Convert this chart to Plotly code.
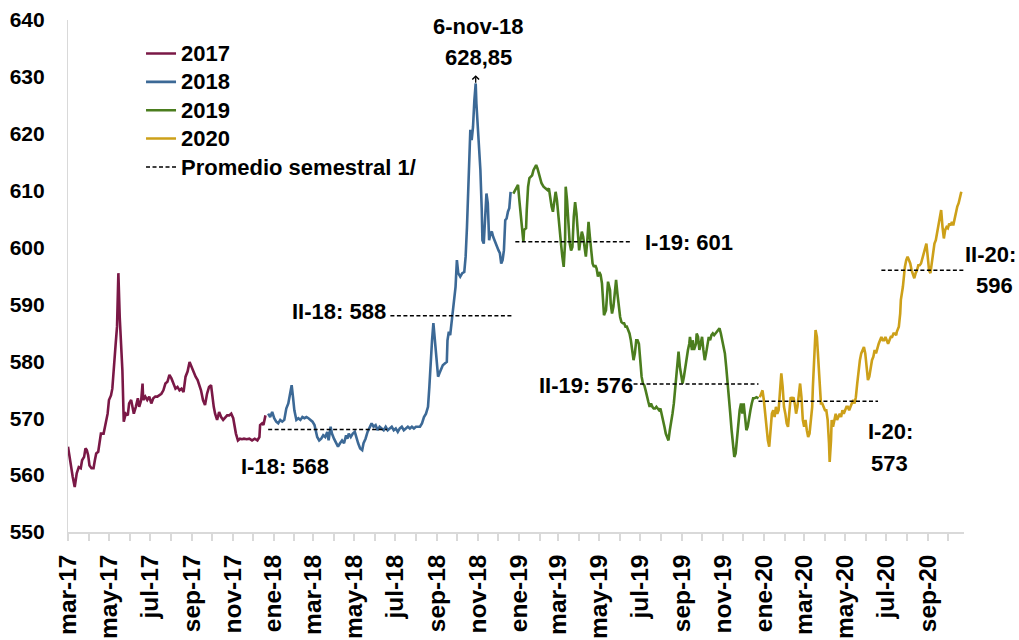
import pandas as pd
import plotly.graph_objects as go

# ---------------- data ----------------
BASE_DATE = "2017-03-01"   # day offsets below are counted from this date

days_2017 = [0, 3, 7, 10, 13, 16, 19, 21, 24, 26,
             28, 30, 32, 35, 38, 40, 42, 45, 47, 49,
             53, 56, 59, 61, 64, 66, 68, 71, 73, 75,
             77, 79, 81, 83, 86, 89, 91, 94, 96, 98,
             101, 104, 106, 109, 111, 112, 115, 118, 121, 124,
             127, 130, 133, 136, 139, 142, 145, 148, 151, 154,
             157, 160, 163, 166, 169, 172, 175, 178, 181, 184,
             187, 190, 193, 196, 198, 201, 204, 207, 210, 213,
             215, 217, 219, 222, 225, 228, 231, 234, 237, 240,
             243, 246, 247, 250, 253, 256, 259, 262, 266, 270,
             274, 278, 282, 285, 286, 289, 291, 293, 294]
usd_2017 = [565.0, 562.6, 559.7, 557.9, 560.3, 561.4, 561.2, 562.6, 563.2, 564.7,
            564.4, 563.5, 561.7, 561.2, 561.2, 562.6, 563.8, 564.1, 566.1, 567.3,
            567.3, 569.1, 570.8, 573.2, 574.0, 575.2, 579.0, 583.1, 586.1, 595.5,
            587.8, 582.5, 578.4, 569.4, 570.8, 570.5, 572.6, 573.2, 572.0, 570.8,
            572.0, 573.5, 572.0, 573.2, 576.1, 573.2, 573.8, 573.2, 573.8, 572.6,
            573.5, 573.8, 573.8, 574.0, 574.3, 574.9, 576.1, 576.4, 577.6, 577.0,
            576.1, 575.2, 575.5, 574.9, 575.2, 574.6, 577.3, 578.2, 579.9, 579.0,
            578.4, 577.3, 576.7, 575.5, 574.9, 573.2, 572.3, 574.3, 575.5, 575.8,
            573.2, 572.0, 570.8, 569.7, 571.1, 570.2, 569.7, 570.2, 570.5, 570.5,
            570.8, 570.0, 569.1, 567.3, 566.1, 566.4, 566.3, 566.4, 566.3, 566.4,
            566.1, 566.4, 566.1, 566.7, 568.8, 569.1, 568.8, 570.2, 570.5]

days_2018 = [298, 301, 304, 307, 310, 313, 316, 319, 322, 325,
             328, 331, 333, 335, 337, 340, 343, 346, 349, 352,
             355, 358, 361, 364, 367, 369, 371, 374, 377, 380,
             383, 386, 388, 391, 393, 396, 399, 402, 405, 408,
             411, 414, 416, 418, 421, 424, 427, 429, 432, 435,
             438, 440, 443, 446, 449, 452, 455, 458, 461, 464,
             467, 470, 473, 476, 479, 482, 485, 488, 491, 494,
             497, 500, 503, 506, 509, 512, 515, 518, 521, 524,
             527, 530, 533, 536, 538, 540, 542, 544, 546, 549,
             551, 553, 556, 558, 561, 564, 565, 567, 569, 571,
             573, 575, 577, 579, 581, 584, 587, 590, 592, 594,
             596, 598, 599, 601, 603, 605, 607, 608, 610, 612,
             614, 616, 617, 619, 621, 623, 625, 627, 629, 631,
             633, 635, 637, 639, 641, 643, 645, 647, 649, 651,
             653, 655, 657, 659]
usd_2018 = [570.8, 570.2, 571.1, 570.0, 569.4, 569.1, 569.7, 569.4, 569.7, 571.7,
            572.6, 574.3, 575.8, 573.7, 571.4, 569.7, 570.0, 569.7, 570.2, 570.0,
            570.2, 570.0, 569.7, 569.4, 568.8, 567.9, 566.7, 566.1, 566.4, 567.0,
            566.7, 567.6, 566.1, 568.5, 567.3, 566.4, 565.6, 565.0, 565.6, 566.1,
            565.6, 567.0, 566.4, 567.3, 566.7, 567.3, 567.6, 566.7, 565.6, 564.7,
            564.4, 565.6, 566.4, 567.6, 568.5, 569.1, 568.5, 568.8, 567.9, 568.5,
            568.2, 567.9, 568.5, 567.9, 568.2, 568.5, 567.9, 568.2, 567.6, 568.2,
            568.5, 567.9, 568.2, 568.5, 568.2, 568.5, 568.2, 568.5, 568.5, 568.5,
            569.1, 570.2, 570.8, 572.0, 575.5, 580.2, 583.7, 586.7, 583.7, 580.2,
            577.3, 577.9, 578.7, 579.3, 579.6, 579.9, 583.7, 585.2, 584.6, 586.7,
            589.0, 590.8, 593.1, 597.8, 595.5, 594.9, 595.5, 595.7, 598.4, 603.6,
            609.5, 615.4, 620.7, 618.9, 621.2, 625.9, 628.85, 625.4, 621.2, 618.9,
            613.6, 606.6, 601.3, 600.7, 605.4, 609.5, 607.8, 601.3, 602.5, 602.8,
            601.9, 601.3, 600.4, 600.1, 599.5, 599.0, 597.2, 597.8, 599.5, 604.8,
            605.1, 606.3, 606.9, 609.8]

days_2019 = [663, 667, 670, 672, 674, 676, 678, 679, 682, 683,
             685, 687, 689, 691, 693, 695, 697, 699, 701, 703,
             705, 708, 711, 714, 716, 718, 720, 722, 724, 726,
             728, 730, 732, 734, 736, 738, 740, 741, 743, 745,
             747, 749, 751, 753, 755, 757, 759, 761, 763, 765,
             767, 769, 771, 773, 775, 777, 779, 781, 783, 785,
             787, 789, 791, 793, 795, 797, 798, 801, 802, 804,
             807, 808, 810, 812, 814, 816, 818, 820, 822, 824,
             826, 828, 830, 832, 834, 836, 838, 840, 842, 844,
             846, 848, 850, 852, 854, 856, 858, 860, 862, 864,
             866, 868, 870, 872, 874, 876, 878, 880, 882, 884,
             886, 888, 890, 892, 894, 896, 898, 900, 902, 904,
             906, 908, 909, 911, 913, 915, 917, 919, 921, 923,
             925, 926, 929, 930, 932, 935, 936, 938, 940, 942,
             944, 946, 948, 950, 952, 954, 956, 958, 960, 962,
             964, 966, 968, 970, 972, 974, 976, 978, 980, 982,
             984, 986, 988, 990, 992, 994, 996, 998, 1000, 1002,
             1004, 1006, 1008, 1010, 1012, 1014, 1016, 1018, 1020, 1022,
             1025, 1028]
usd_2019 = [609.5, 610.4, 611.0, 608.3, 605.4, 603.1, 601.0, 603.1, 603.4, 606.6,
            610.7, 612.2, 612.4, 612.7, 613.6, 614.2, 614.5, 613.9, 613.0, 612.4,
            611.3, 610.7, 610.4, 610.1, 610.4, 608.6, 607.2, 606.3, 607.8, 609.8,
            608.3, 605.4, 603.1, 600.7, 598.4, 596.6, 600.7, 610.7, 608.3, 603.6,
            600.7, 599.5, 600.1, 605.4, 608.0, 606.0, 602.5, 599.5, 601.3, 602.8,
            601.9, 600.1, 598.4, 601.0, 604.5, 601.9, 599.5, 597.2, 596.6, 596.9,
            596.3, 594.9, 595.7, 595.2, 593.7, 590.8, 588.1, 589.0, 591.3, 594.0,
            592.5, 590.2, 588.4, 589.6, 591.9, 594.3, 591.9, 589.6, 587.8, 586.9,
            586.7, 586.7, 586.1, 586.1, 585.5, 584.9, 583.7, 582.0, 580.2, 581.4,
            583.7, 583.7, 583.1, 580.2, 577.3, 576.1, 575.8, 574.9, 573.7, 572.9,
            572.0, 572.6, 572.0, 571.7, 571.7, 572.0, 571.7, 571.4, 571.7, 570.8,
            569.7, 568.5, 567.3, 566.7, 566.1, 567.9, 569.1, 570.8, 572.6, 574.9,
            577.3, 580.2, 581.7, 579.0, 577.3, 576.1, 577.3, 579.0, 580.8, 582.0,
            583.1, 584.3, 582.0, 583.7, 582.0, 583.1, 584.9, 584.3, 582.0, 583.1,
            584.3, 582.0, 580.2, 581.4, 583.1, 584.3, 583.7, 584.6, 584.9, 584.6,
            584.9, 585.2, 585.5, 585.8, 584.9, 583.7, 583.1, 581.4, 579.0, 576.7,
            573.7, 570.8, 567.9, 565.6, 563.2, 563.8, 566.7, 569.1, 571.4, 572.6,
            570.8, 572.6, 570.2, 567.9, 568.5, 570.2, 571.4, 572.6, 573.5, 573.5,
            573.7, 573.5]

days_2020 = [1030, 1032, 1034, 1036, 1038, 1040, 1042, 1044, 1046, 1048,
             1050, 1052, 1054, 1056, 1058, 1060, 1062, 1064, 1066, 1068,
             1070, 1072, 1074, 1076, 1078, 1080, 1082, 1084, 1086, 1088,
             1090, 1092, 1094, 1096, 1098, 1100, 1102, 1104, 1106, 1108,
             1109, 1112, 1113, 1115, 1117, 1119, 1121, 1123, 1125, 1127,
             1129, 1131, 1133, 1134, 1136, 1137, 1139, 1141, 1143, 1145,
             1147, 1149, 1151, 1153, 1155, 1157, 1159, 1161, 1163, 1165,
             1167, 1169, 1171, 1173, 1175, 1177, 1179, 1181, 1183, 1185,
             1187, 1189, 1191, 1193, 1195, 1197, 1199, 1201, 1203, 1205,
             1207, 1209, 1211, 1213, 1215, 1217, 1219, 1221, 1223, 1225,
             1227, 1229, 1231, 1233, 1234, 1237, 1239, 1240, 1243, 1244,
             1246, 1248, 1250, 1252, 1254, 1256, 1258, 1260, 1262, 1264,
             1266, 1268, 1270, 1272, 1274, 1276, 1278, 1280, 1282, 1284,
             1286, 1288, 1290, 1292, 1294, 1296, 1298, 1300, 1302, 1304,
             1306, 1308, 1310, 1312, 1314, 1316, 1318, 1320, 1322, 1324,
             1326, 1328, 1330]
usd_2020 = [573.7, 574.3, 574.9, 573.2, 570.8, 568.5, 566.1, 565.0, 567.9, 570.8,
            571.4, 570.2, 572.0, 570.8, 571.4, 574.3, 577.9, 575.5, 572.0, 570.8,
            569.1, 568.5, 570.8, 573.7, 573.2, 573.7, 572.6, 570.8, 572.0, 574.3,
            576.1, 573.7, 569.7, 568.5, 569.7, 567.9, 566.7, 567.3, 569.7, 572.0,
            575.5, 581.4, 585.5, 584.3, 580.8, 575.5, 572.6, 572.6, 572.0, 571.4,
            571.4, 569.7, 565.6, 562.3, 566.1, 569.7, 568.5, 569.7, 570.8, 569.7,
            570.2, 570.8, 570.2, 571.4, 570.8, 571.4, 572.0, 572.0, 571.4, 572.0,
            572.6, 573.2, 572.6, 573.7, 576.1, 578.4, 580.2, 581.4, 582.0, 582.5,
            581.4, 578.4, 576.7, 577.3, 579.0, 580.2, 580.8, 582.0, 581.4, 582.5,
            583.1, 583.7, 584.3, 583.7, 583.7, 584.3, 583.7, 583.1, 583.7, 584.3,
            584.3, 584.9, 584.9, 584.6, 585.2, 586.1, 588.4, 590.8, 593.1, 594.9,
            596.6, 597.8, 598.4, 597.8, 597.2, 596.0, 595.2, 594.6, 595.5, 596.0,
            596.9, 596.9, 597.2, 598.1, 599.0, 600.1, 600.7, 598.4, 596.0, 595.5,
            597.2, 599.0, 600.7, 601.3, 602.5, 604.2, 605.4, 606.6, 603.6, 601.6,
            603.1, 603.6, 603.4, 604.2, 603.9, 604.5, 603.9, 605.1, 606.3, 607.2,
            607.8, 608.9, 609.8]

# semester averages ("Promedio semestral 1/")
sem_names = ["I-18", "II-18", "I-19", "II-19", "I-20", "II-20"]
sem_start_days = [298, 480, 666, 842, 1028, 1211]
sem_end_days = [475, 661, 837, 1028, 1206, 1333]
sem_avg = [568, 588, 601, 576, 573, 596]

# x-axis labels (every two months)
tick_dates = ["2017-03-01", "2017-05-01", "2017-07-01", "2017-09-01", "2017-11-01",
              "2018-01-01", "2018-03-01", "2018-05-01", "2018-07-01", "2018-09-01",
              "2018-11-01", "2019-01-01", "2019-03-01", "2019-05-01", "2019-07-01",
              "2019-09-01", "2019-11-01", "2020-01-01", "2020-03-01", "2020-05-01",
              "2020-07-01", "2020-09-01"]
tick_labels = ["mar-17", "may-17", "jul-17", "sep-17", "nov-17",
               "ene-18", "mar-18", "may-18", "jul-18", "sep-18",
               "nov-18", "ene-19", "mar-19", "may-19", "jul-19",
               "sep-19", "nov-19", "ene-20", "mar-20", "may-20",
               "jul-20", "sep-20"]

peak_label = "6-nov-18"
peak_value = 628.85

series_names = ["2017", "2018", "2019", "2020"]
series_colors = ["#7a1846", "#3c6996", "#4b7d1e", "#cda019"]

# ---------------- figure ----------------
base = pd.Timestamp(BASE_DATE)


def to_dates(days):
    return [base + pd.Timedelta(days=int(d)) for d in days]


FONT = "Liberation Sans, Arial, sans-serif"
LEG_TXT = "<span style='font-size:22px'>{}</span>"
fig = go.Figure()

for name, days, vals, col in zip(series_names,
                                 [days_2017, days_2018, days_2019, days_2020],
                                 [usd_2017, usd_2018, usd_2019, usd_2020],
                                 series_colors):
    fig.add_trace(go.Scatter(x=to_dates(days), y=vals, mode="lines",
                             name=LEG_TXT.format(name),
                             line=dict(color=col, width=2.6)))

sx, sy = [], []
for s, e, v in zip(sem_start_days, sem_end_days, sem_avg):
    sx += to_dates([s, e]) + [None]
    sy += [v, v, None]
fig.add_trace(go.Scatter(x=sx, y=sy, mode="lines",
                         name=LEG_TXT.format("Promedio semestral 1/"),
                         line=dict(color="black", width=1.5, dash="4px,2.5px")))

annot_font = dict(family=FONT, size=22, color="black", weight="bold")
anns = []


def add_text(text, x, y, xref="x"):
    anns.append(dict(text=text, x=x, y=y, xref=xref, yref="y", showarrow=False,
                     xanchor="center", yanchor="middle", font=annot_font))


peak_day = days_2018[usd_2018.index(peak_value)]
peak_date = to_dates([peak_day])[0]
add_text(peak_label, to_dates([peak_day + 4])[0], 638.8)
add_text(f"{peak_value:.2f}".replace(".", ","), to_dates([peak_day + 4])[0], 633.4)
anns.append(dict(text="", x=peak_date, y=630.3, xref="x", yref="y", ax=0, ay=9,
                 showarrow=True, arrowhead=4, arrowsize=1, arrowwidth=1.3,
                 arrowcolor="black"))

add_text(f"{sem_names[0]}: {sem_avg[0]}", to_dates([323])[0], 561.6)
add_text(f"{sem_names[1]}: {sem_avg[1]}", to_dates([403])[0], 588.8)
add_text(f"{sem_names[2]}: {sem_avg[2]}", to_dates([925])[0], 600.9)
add_text(f"{sem_names[3]}: {sem_avg[3]}", to_dates([771])[0], 575.8)
add_text(f"{sem_names[4]}:", to_dates([1224])[0], 567.6)
add_text(f"{sem_avg[4]}", to_dates([1223])[0], 562.0)
add_text(f"{sem_names[5]}:", 1.030, 598.7, xref="paper")
add_text(f"{sem_avg[5]}", 1.034, 593.4, xref="paper")

month_starts = pd.date_range("2017-03-01", "2020-10-01", freq="MS")

fig.update_layout(
    width=1019, height=640,
    margin=dict(l=68, r=55, t=20, b=108, autoexpand=False),
    paper_bgcolor="white", plot_bgcolor="white",
    font=dict(family=FONT, color="black"),
    showlegend=True,
    legend=dict(x=0.0815, y=0.972, xanchor="left", yanchor="top",
                bgcolor="rgba(0,0,0,0)", borderwidth=0,
                font=dict(family=FONT, size=19.5, color="black", weight="bold"),
                itemwidth=30, tracegroupgap=0),
    annotations=anns,
    xaxis=dict(type="date", automargin=False,
               range=[base, base + pd.Timedelta(days=1334)],
               tickmode="array", tickvals=tick_dates, ticktext=tick_labels,
               tickangle=-90, ticks="outside", ticklen=7, tickwidth=1.5,
               tickcolor="#d9d9d9", showline=True, linecolor="#d9d9d9",
               linewidth=1.5, showgrid=False, zeroline=False,
               ticklabelstandoff=4,
               tickfont=dict(family=FONT, size=24.5, color="black", weight="bold"),
               minor=dict(tickmode="array", tickvals=list(month_starts),
                          ticks="outside", ticklen=7, tickwidth=1.5,
                          tickcolor="#d9d9d9", showgrid=False)),
    yaxis=dict(range=[550, 640], tickmode="linear", tick0=550, dtick=10,
               automargin=False,
               ticks="", showline=True, linecolor="#d9d9d9", linewidth=1.2,
               showgrid=False, zeroline=False, ticklabelstandoff=18,
               tickfont=dict(family=FONT, size=21, color="black", weight="bold")),
)

fig.write_html("out.html", config={"displayModeBar": False},
               post_script="document.body.style.margin='0';")
